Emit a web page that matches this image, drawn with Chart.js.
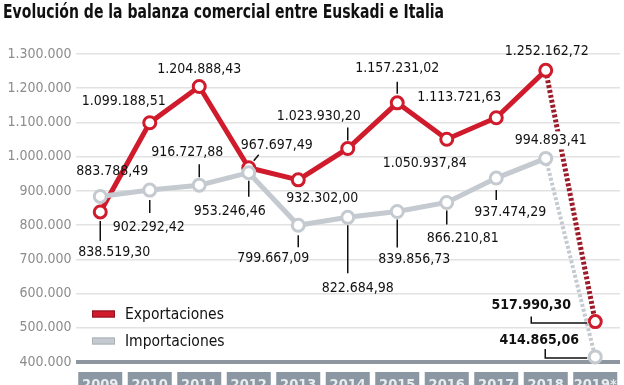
<!DOCTYPE html>
<html>
<head>
<meta charset="utf-8">
<script src="https://cdn.jsdelivr.net/npm/chart.js@4"></script>
<style>
  body { margin: 0; background: #fff; }
  canvas { display: block; }
</style>
</head>
<body>
<canvas id="balanza" width="624" height="385"></canvas>
<script>
// Datos (miles de euros)
const years = ['2009', '2010', '2011', '2012', '2013', '2014', '2015', '2016', '2017', '2018', '2019*'];
const exportaciones = [838519.30, 1099188.51, 1204888.43, 967697.49, 932302.00, 1023930.20, 1157231.02, 1050937.84, 1113721.63, 1252162.72, 517990.30];
const importaciones = [883788.49, 902292.42, 916727.88, 953246.46, 799667.09, 822684.98, 839856.73, 866210.81, 937474.29, 994893.41, 414865.06];
const yMin = 400000;
const yMax = 1300000;
const yStep = 100000;

const RED = '#cf1b2b';
const GREY = '#c4cad0';
const FONT = '"DejaVu Sans Condensed", "DejaVu Sans", sans-serif';

// Posición de las etiquetas respecto al punto: [dx, dy, guía, fondo blanco]
// guía: null | ['v', y1, y2] | ['d', x1, y1, x2, y2] | ['L', x, yTop, y, xEnd]
const expLabels = [
    [14, 40, ['v', 9, 29]],
    [-26, -21, null],
    [0, -17, null],
    [28, -22, ['d', 5, -7, 10, -13]],
    [24, 19, null],
    [-29, -32, ['v', -21, -8]],
    [0, -34, ['v', -21, -9]],
    [-22, 24, null],
    [-37, -20, null],
    [1, -19, null],
    [-64, -16, ['L', -64, -5, 1.5, -8]]
];
const impLabels = [
    [12, -25, null],
    [-1, 37, ['v', 10, 23]],
    [-12, -33, ['v', -21, -8]],
    [-19, 39, ['v', 8, 24]],
    [-25, 33, ['v', 10, 22]],
    [10, 71, ['v', 8, 56]],
    [17, 48, ['v', 8, 36]],
    [16, 36, ['v', 8, 22]],
    [14, 34, ['v', 12, 22]],
    [5, -18, null, true],
    [-56, -17, ['L', -50, -8, 1, -8]]
];

function fmtMiles(v) {
    return String(v).replace(/\B(?=(\d{3})+(?!\d))/g, '.');
}
function fmtValor(v) {
    const parts = v.toFixed(2).split('.');
    return fmtMiles(parts[0]) + ',' + parts[1];
}

// Plugin: título, etiquetas, leyenda y cajas de años
const decoPlugin = {
    id: 'deco',
    beforeDraw(chart) {
        const ctx = chart.ctx;
        ctx.save();
        ctx.fillStyle = '#fff';
        ctx.fillRect(0, 0, chart.width, chart.height);
        // título estrecho
        ctx.font = 'bold 19.5px ' + FONT;
        ctx.fillStyle = '#111';
        ctx.textBaseline = 'alphabetic';
        const title = 'Evolución de la balanza comercial entre Euskadi e Italia';
        const w = ctx.measureText(title).width;
        ctx.translate(3, 18);
        ctx.scale(441 / w, 1);
        ctx.fillText(title, 0, 0);
        ctx.restore();
    },
    afterDatasetsDraw(chart) {
        const ctx = chart.ctx;
        ctx.save();
        ctx.textAlign = 'center';
        ctx.textBaseline = 'middle';
        const sets = [[1, exportaciones, expLabels], [0, importaciones, impLabels]];
        sets.forEach(([dsIdx, values, conf]) => {
            const meta = chart.getDatasetMeta(dsIdx);
            meta.data.forEach((pt, i) => {
                const [dx, dy, guia, fondo] = conf[i];
                const last = i === values.length - 1;
                const txt = fmtValor(values[i]);
                ctx.font = (last ? 'bold ' : '') + '14px ' + FONT;
                if (fondo) {
                    const tw = ctx.measureText(txt).width;
                    ctx.fillStyle = '#fff';
                    ctx.fillRect(pt.x + dx - tw / 2 - 2, pt.y + dy - 9, tw + 4, 18);
                }
                ctx.fillStyle = '#111';
                ctx.fillText(txt, pt.x + dx, pt.y + dy);
                if (guia) {
                    ctx.strokeStyle = '#111';
                    ctx.lineWidth = 1.5;
                    ctx.beginPath();
                    if (guia[0] === 'v') {
                        ctx.moveTo(pt.x, pt.y + guia[1]);
                        ctx.lineTo(pt.x, pt.y + guia[2]);
                    } else if (guia[0] === 'd') {
                        ctx.moveTo(pt.x + guia[1], pt.y + guia[2]);
                        ctx.lineTo(pt.x + guia[3], pt.y + guia[4]);
                    } else {
                        ctx.moveTo(pt.x + guia[1], pt.y + guia[2]);
                        ctx.lineTo(pt.x + guia[1], pt.y + guia[3]);
                        ctx.lineTo(pt.x + guia[4], pt.y + guia[3]);
                    }
                    ctx.stroke();
                }
            });
        });

        // leyenda
        const items = [['Exportaciones', RED, '#8e1520', 314], ['Importaciones', GREY, '#a9b0b6', 341]];
        items.forEach(([txt, fill, border, y]) => {
            ctx.fillStyle = fill;
            ctx.fillRect(92, y - 3.5, 23, 7);
            ctx.strokeStyle = border;
            ctx.lineWidth = 1;
            ctx.strokeRect(92.5, y - 3, 22, 6);
            ctx.fillStyle = '#111';
            ctx.font = '15.5px ' + FONT;
            ctx.textAlign = 'left';
            ctx.fillText(txt, 125, y + 1);
        });
        ctx.restore();
    },
    afterDraw(chart) {
        const ctx = chart.ctx;
        const x = chart.scales.x;
        ctx.save();
        ctx.textAlign = 'center';
        ctx.textBaseline = 'alphabetic';
        ctx.font = 'bold 14.5px ' + FONT;
        years.forEach((y, i) => {
            const cx = x.getPixelForValue(i);
            ctx.fillStyle = '#8b97a2';
            ctx.fillRect(cx - 22, 372, 44, 20);
            ctx.fillStyle = '#e9edf0';
            ctx.fillText(y, cx, 389);
        });
        ctx.restore();
    }
};

const ctx = document.getElementById('balanza').getContext('2d');
const balanzaChart = new Chart(ctx, {
    type: 'line',
    data: {
        labels: years,
        datasets: [
            {
                label: 'Importaciones',
                data: importaciones,
                order: 0,
                borderColor: GREY,
                borderWidth: 5,
                pointRadius: 6,
                pointBorderWidth: 3,
                pointBackgroundColor: '#fff',
                pointBorderColor: GREY,
                tension: 0,
                clip: false,
                segment: {
                    borderDash: c => c.p0DataIndex === 9 ? [3, 2] : undefined,
                    borderWidth: c => c.p0DataIndex === 9 ? 4 : undefined
                }
            },
            {
                label: 'Exportaciones',
                data: exportaciones,
                order: 1,
                borderColor: RED,
                borderWidth: 5,
                pointRadius: 6,
                pointBorderWidth: 3,
                pointBackgroundColor: '#fff',
                pointBorderColor: RED,
                tension: 0,
                clip: false,
                segment: {
                    borderDash: c => c.p0DataIndex === 9 ? [3, 2] : undefined,
                    borderColor: c => c.p0DataIndex === 9 ? '#9c1c2a' : undefined
                }
            }
        ]
    },
    options: {
        responsive: false,
        animation: false,
        layout: {
            autoPadding: false,
            padding: { top: 54, bottom: 23, right: 4, left: 0 }
        },
        plugins: {
            legend: { display: false },
            tooltip: { enabled: false }
        },
        scales: {
            x: {
                display: false,
                offset: true
            },
            y: {
                min: yMin,
                max: yMax,
                afterFit: s => { s.width = 75.5; },
                border: { display: false },
                grid: {
                    drawTicks: false,
                    color: c => c.tick && c.tick.value === yMin ? '#8e979f' : '#e2e2e2',
                    lineWidth: c => c.tick && c.tick.value === yMin ? 4 : 1.5
                },
                ticks: {
                    stepSize: yStep,
                    padding: 4,
                    color: '#8c8c8c',
                    font: { family: FONT, size: 14 },
                    callback: v => fmtMiles(v)
                }
            }
        }
    },
    plugins: [decoPlugin]
});
</script>
</body>
</html>
